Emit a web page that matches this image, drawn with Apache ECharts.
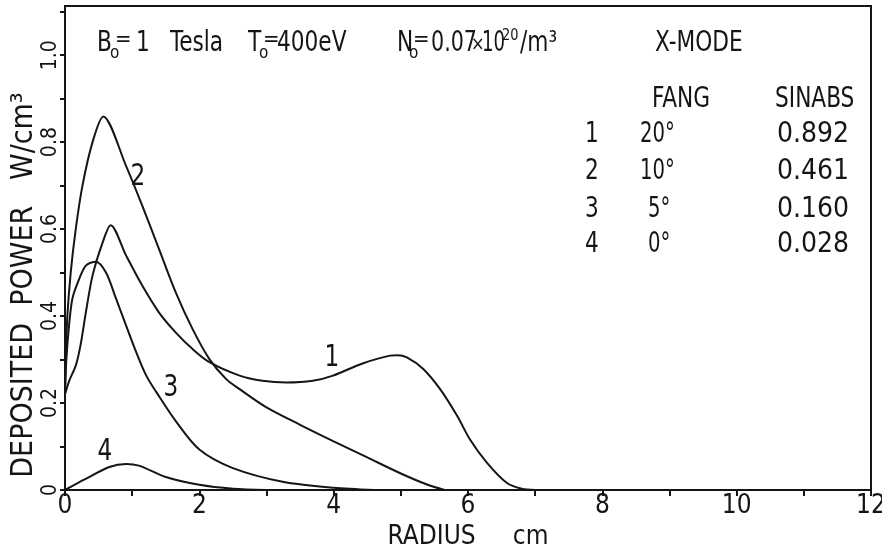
<!DOCTYPE html>
<html>
<head>
<meta charset="utf-8">
<script src="https://cdn.jsdelivr.net/npm/echarts@6/dist/echarts.min.js"></script>
<style>
  html, body { margin: 0; padding: 0; background: #fff; }
  #chart { width: 882px; height: 553px; }
</style>
</head>
<body>
<div id="chart"></div>
<script>
// curve 1 : FANG 20deg
const r1 = [0, 0.06, 0.16, 0.23, 0.31, 0.41, 0.56, 0.68, 0.91, 1.15, 1.40, 1.65, 1.90, 2.15, 2.6, 2.94, 3.30, 3.69, 3.99, 4.43, 4.84, 4.95, 5.09, 5.33, 5.58, 5.84, 6.03, 6.28, 6.58, 6.8, 7.0];
const p1 = [0.22, 0.25, 0.286, 0.332, 0.408, 0.493, 0.569, 0.609, 0.539, 0.47, 0.408, 0.362, 0.324, 0.294, 0.263, 0.251, 0.247, 0.251, 0.263, 0.291, 0.309, 0.310, 0.305, 0.279, 0.233, 0.170, 0.116, 0.063, 0.016, 0.003, 0];
// curve 2 : FANG 10deg
const r2 = [0, 0.01, 0.035, 0.085, 0.16, 0.26, 0.41, 0.57, 0.91, 1.15, 1.40, 1.65, 1.90, 2.15, 2.4, 2.6, 3.0, 3.5, 4.0, 4.5, 5.0, 5.4, 5.65];
const p2 = [0.22, 0.30, 0.40, 0.50, 0.60, 0.70, 0.80, 0.859, 0.745, 0.654, 0.554, 0.454, 0.37, 0.301, 0.255, 0.232, 0.19, 0.15, 0.112, 0.075, 0.038, 0.012, 0];
// curve 3 : FANG 5deg
const r3 = [0, 0.02, 0.06, 0.11, 0.19, 0.31, 0.46, 0.61, 0.76, 0.91, 1.06, 1.21, 1.36, 1.66, 2.0, 2.49, 3.24, 4.0, 4.6];
const p3 = [0.22, 0.30, 0.378, 0.44, 0.477, 0.516, 0.525, 0.50, 0.44, 0.378, 0.317, 0.263, 0.225, 0.156, 0.093, 0.051, 0.019, 0.005, 0];
// curve 4 : FANG 0deg
const r4 = [0, 0.3, 0.66, 0.91, 1.1, 1.5, 2.0, 2.5, 3.0];
const p4 = [0, 0.025, 0.053, 0.06, 0.056, 0.03, 0.012, 0.003, 0];

const curveNames = ["1", "2", "3", "4"];
const fangs = ["20°", "10°", "5°", "0°"];
const sinabs = ["0.892", "0.461", "0.160", "0.028"];

const FONT = "'DejaVu Sans Condensed', 'Liberation Sans Narrow', 'DejaVu Sans', sans-serif";
const INK = "#151515";

function zip(xs, ys) {
  return xs.map((x, i) => [x, ys[i]]);
}

// plain text helper, sx squeezes the glyphs a little like the plotter font
function txt(x, y, s, size, sx, align) {
  return {
    type: "text",
    x: x,
    y: y,
    scaleX: sx || 1,
    silent: true,
    style: {
      text: s,
      fill: INK,
      font: size + "px " + FONT,
      align: align || "left",
      verticalAlign: "middle"
    }
  };
}

let chart = echarts.init(document.getElementById("chart"));

let graphics = [
  // header line
  txt(97, 44, "B", 28, 0.86), txt(110, 54, "o", 17), txt(115, 40, "=", 22), txt(136, 44, "1", 28, 0.86),
  txt(170, 44, "Tesla", 28, 0.86),
  txt(248, 44, "T", 28, 0.86), txt(259, 54, "o", 17), txt(263, 40, "=", 22), txt(277, 44, "400eV", 28, 0.86),
  txt(397, 44, "N", 28, 0.86), txt(409, 54, "o", 17), txt(413, 40, "=", 22),
  txt(431, 44, "0.07", 28, 0.82), txt(471, 45, "×", 20, 0.9), txt(482, 44, "10", 28, 0.72),
  txt(502, 36, "20", 16, 0.9), txt(520, 44, "/m³", 28, 0.86),
  txt(655, 44, "X-MODE", 28, 0.86),
  // table head
  txt(652, 100, "FANG", 28, 0.86), txt(775, 100, "SINABS", 28, 0.86),
  // y axis name
  {
    type: "text", x: 24, y: 285, rotation: Math.PI / 2, silent: true,
    style: { text: "DEPOSITED  POWER   W/cm³", fill: INK, font: "30px " + FONT, align: "center", verticalAlign: "middle" }
  }
];

const rowY = [135, 172, 210, 245];
rowY.forEach((y, i) => {
  graphics.push(txt(592, y, curveNames[i], 28, 0.86, "center"));
  graphics.push(txt(i < 2 ? 640 : 648, y, fangs[i], 28, 0.78));
  graphics.push(txt(777, y, sinabs[i], 28));
});

// curve labels
[[332, 358, "1"], [138, 177, "2"], [171, 388, "3"], [105, 452, "4"]].forEach(l => {
  graphics.push(txt(l[0], l[1], l[2], 30, 0.86, "center"));
});

const lineStyle = { color: INK, width: 2 };

let option = {
  backgroundColor: "#fff",
  animation: false,
  grid: {
    left: 65,
    right: 11,
    top: 6,
    bottom: 63,
    containLabel: false,
    outerBoundsMode: "none",
    show: true,
    borderColor: INK,
    borderWidth: 2
  },
  xAxis: {
    type: "value",
    min: 0,
    max: 12,
    interval: 1,
    name: "RADIUS     cm",
    nameLocation: "middle",
    nameGap: 24,
    nameTextStyle: { color: INK, fontFamily: FONT, fontSize: 26 },
    splitLine: { show: false },
    axisLine: { lineStyle: { color: INK, width: 2 } },
    axisTick: { length: 6, lineStyle: { color: INK, width: 2 } },
    axisLabel: {
      color: INK,
      fontFamily: FONT,
      fontSize: 26,
      margin: 3,
      formatter: function (v) {
        return v % 2 === 0 ? String(v) : "";
      }
    }
  },
  yAxis: {
    type: "value",
    min: 0,
    max: 1.113,
    interval: 0.1,
    splitLine: { show: false },
    axisLine: { lineStyle: { color: INK, width: 2 } },
    axisTick: { length: 5, lineStyle: { color: INK, width: 2 } },
    axisLabel: {
      color: INK,
      fontFamily: FONT,
      fontSize: 21,
      rotate: 90,
      margin: 4,
      showMaxLabel: false,
      formatter: function (v) {
        let k = Math.round(v * 10);
        if (Math.abs(v * 10 - k) > 0.01 || k % 2 !== 0 || k > 10) return "";
        return k === 0 ? "0" : (k / 10).toFixed(1);
      }
    }
  },
  graphic: graphics,
  series: [
    { name: "1", type: "line", data: zip(r1, p1), showSymbol: false, smooth: 0.3, lineStyle: lineStyle },
    { name: "2", type: "line", data: zip(r2, p2), showSymbol: false, smooth: 0.3, lineStyle: lineStyle },
    { name: "3", type: "line", data: zip(r3, p3), showSymbol: false, smooth: 0.3, lineStyle: lineStyle },
    { name: "4", type: "line", data: zip(r4, p4), showSymbol: false, smooth: 0.3, lineStyle: lineStyle }
  ]
};

chart.setOption(option);
</script>
</body>
</html>
